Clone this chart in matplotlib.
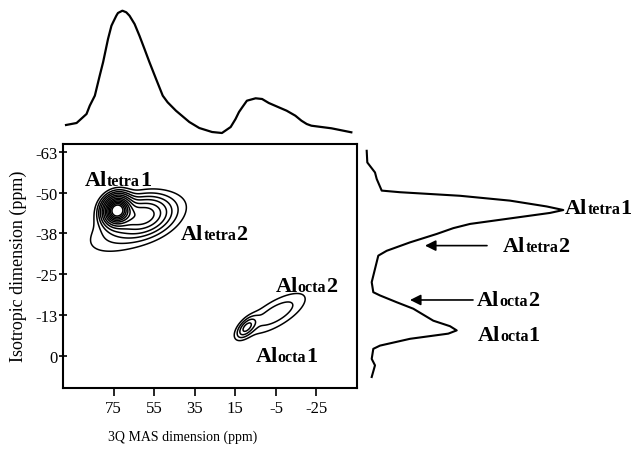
import numpy as np
import matplotlib
matplotlib.use('Agg')
import matplotlib.pyplot as plt
from matplotlib.offsetbox import TextArea, HPacker, AnnotationBbox

plt.rcParams['font.family'] = ['Liberation Serif', 'DejaVu Serif']

# ---------------- data ----------------
# main axis ticks
x_ticks = [75, 55, 35, 15, -5, -25]
y_tick_pos = [0, -12.6, -25.2, -37.8, -50.4, -63]
y_tick_labels = ['0', '-13', '-25', '-38', '-50', '-63']

# 2D peak model (ppm)
peak_x = [73.5, 61.0, 64.0, 9.5, -5.0]
peak_y = [-45.0, -43.5, -40.5, -8.7, -13.0]
peak_sx = [4.0, 8.0, 15.0, 3.0, 10.0]
peak_sy = [2.6, 3.5, 5.5, 2.0, 4.3]
peak_rho = [0.1, 0.2, 0.6, 0.6, 0.72]
peak_amp = [1.0, 0.3, 0.09, 0.15, 0.085]
contour_levels = [0.03, 0.06, 0.1, 0.15, 0.22, 0.3, 0.4, 0.5, 0.6, 0.7, 0.8, 0.9]

# top projection (MAS dimension ppm, intensity)
top_ppm = [98.5, 93.3, 88.4, 86.8, 84.3, 81.9, 80.2, 77.8, 76.1, 75.3, 73.7,
           72.9, 70.7, 68.8, 67.2, 64.7, 62.3, 59.8, 57.4, 54.1, 50.8, 48.4,
           44.3, 37.7, 32.8, 26.5, 21.6, 17.3, 14.9, 13.2, 11.6, 9.3, 7.5,
           5.0, 1.8, -1.5, -6.4, -10.3, -14.6, -17.6, -20.2, -22.5, -32.4, -42.2]
top_int = [9, 11, 20, 28.3, 38.3, 58.3, 72, 95, 108.3, 111.7, 118.3,
           121, 123.3, 121.7, 118.3, 110, 98.3, 85, 72, 55, 38.3, 31.7,
           23.3, 12, 6, 2, 1, 7, 15, 22, 26.7, 33.3, 34.3,
           35.7, 35, 31, 26.7, 23.3, 18.3, 13.3, 10, 8.3, 5.7, 1.7]

# right projection (isotropic ppm, intensity)
right_ppm = [-63.3, -59.7, -56.6, -54.6, -51.0, -50.5, -49.4, -47.9, -46.1,
             -45.0, -44.1, -42.4, -40.7, -39.4, -37.6, -35.0, -32.4, -30.9,
             -26.8, -22.7, -19.6, -18.6, -16.5, -14.5, -10.8, -9.1, -7.8,
             -6.8, -5.2, -3.1, -2.1, 1.0, 3.0, 6.6]
right_int = [1.7, 2.3, 10, 11.7, 16.7, 35, 95, 145, 181.7,
             198.3, 185, 145, 105, 88.3, 71.7, 45, 21.7, 13.3,
             10, 6.7, 8.3, 15, 31.7, 48.3, 68.3, 85, 91.7,
             83.3, 45, 15, 8.3, 6.7, 10, 6.7]

# labels: (sub text, number, x, y)
main_labels = [('tetra', '1', 89.2, -54.3),
               ('tetra', '2', 41.8, -37.6),
               ('octa', '2', -4.7, -21.4),
               ('octa', '1', 5.0, 0.0)]
right_labels = [('tetra', '1', 200, -45.6),
                ('tetra', '2', 138, -33.9),
                ('octa', '2', 112, -17.2),
                ('octa', '1', 113, -6.4)]
arrows = [(122, 60, -34.0), (108, 45, -17.2)]

# ---------------- figure ----------------
W, H = 637, 452
fig = plt.figure(figsize=(W / 100, H / 100), dpi=100)


def rect(x0, y0, x1, y1):
    return [x0 / W, 1 - y1 / H, (x1 - x0) / W, (y1 - y0) / H]


ax = fig.add_axes(rect(63, 145, 357, 389))
axt = fig.add_axes(rect(63, 8, 357, 136), sharex=ax)
axr = fig.add_axes(rect(365, 145, 637, 389), sharey=ax)

# contour field
gx = np.linspace(100, -45, 400)
gy = np.linspace(10, -65.4, 300)
X, Y = np.meshgrid(gx, gy)
Z = np.zeros_like(X)
for x0, y0, sx, sy, r, a in zip(peak_x, peak_y, peak_sx, peak_sy, peak_rho, peak_amp):
    u = (X - x0) / sx
    v = (Y - y0) / sy
    Z += a * np.exp(-(u * u - 2 * r * u * v + v * v) / (2 * (1 - r * r)))

ax.contour(X, Y, Z, levels=contour_levels, colors='black', linewidths=1.1)
ax.set_xlim(100, -45)
ax.set_ylim(10, -65.4)
ax.set_xticks(x_ticks)
ax.set_xticklabels([str(t) for t in x_ticks])
ax.set_yticks(y_tick_pos)
ax.set_yticklabels(y_tick_labels)
ax.tick_params(axis='x', direction='out', length=6, width=1.2, labelsize=12, pad=3)
ax.tick_params(axis='y', direction='inout', length=6, width=1.2, labelsize=12, pad=1)
for s in ax.spines.values():
    s.set_linewidth(1.5)

# projections
axt.plot(top_ppm, top_int, color='black', lw=1.6, solid_joinstyle='round')
axt.set_ylim(-1, 127)
axt.axis('off')

axr.plot(right_int, right_ppm, color='black', lw=1.5, solid_joinstyle='round')
axr.set_xlim(0, 272)
axr.axis('off')


def label(axis, sub, num, x, y):
    big = dict(fontsize=16, fontweight='bold', family='Liberation Serif')
    small = dict(fontsize=11.5, fontweight='bold', family='Liberation Serif')
    box = HPacker(children=[TextArea('Al', textprops=big),
                            TextArea(sub, textprops=small),
                            TextArea(num, textprops=big)],
                  align='baseline', pad=0, sep=0)
    ab = AnnotationBbox(box, (x, y), xycoords='data', box_alignment=(0, 0.5),
                        frameon=False, pad=0, annotation_clip=False)
    axis.add_artist(ab)


for sub, num, x, y in main_labels:
    label(ax, sub, num, x, y)
for sub, num, x, y in right_labels:
    label(axr, sub, num, x, y)
for x_from, x_to, y in arrows:
    axr.annotate('', xy=(x_to, y), xytext=(x_from, y),
                 arrowprops=dict(arrowstyle='-|>', color='black', lw=1.2,
                                 mutation_scale=16, shrinkA=0, shrinkB=0),
                 annotation_clip=False)

fig.text(183 / W, 1 - 437 / H, '3Q MAS dimension (ppm)', ha='center', va='center', fontsize=10)
fig.text(18 / W, 1 - 266 / H, 'Isotropic dimension (ppm)', ha='center', va='center',
         rotation=90, fontsize=13)

fig.savefig('out.png', dpi=100)
